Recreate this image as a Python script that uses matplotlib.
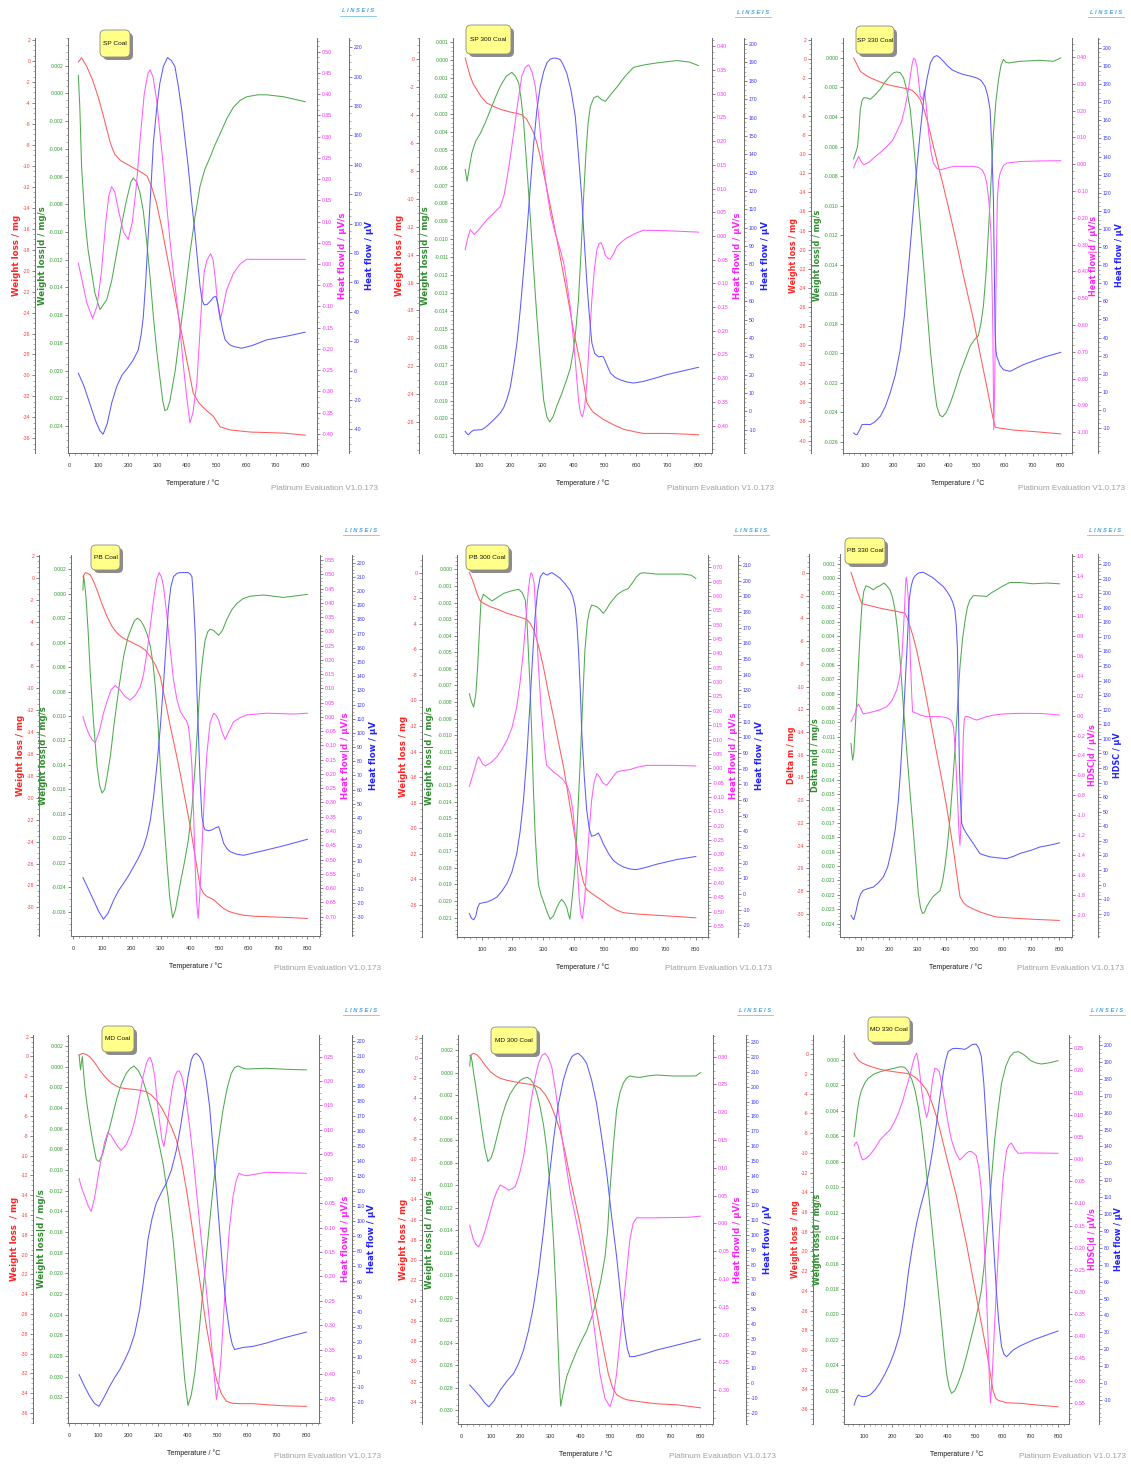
import matplotlib
matplotlib.use('Agg')
import matplotlib.pyplot as plt
import matplotlib.transforms as mtransforms
from matplotlib import font_manager
from matplotlib.patches import FancyBboxPatch
from matplotlib.lines import Line2D
from matplotlib.ticker import FixedLocator, AutoMinorLocator, FormatStrFormatter, MultipleLocator
import numpy as np

# ---------------- data: (temperature °C, value) ----------------
# mass = weight loss (mg), dtg = weight loss|d (mg/s), dtad = heat flow|d (µV/s), dta = heat flow (µV)

sp_mass = [(32, -0.1), (43, 0.3), (60, -0.5), (80, -1.8), (100, -3.5), (120, -5.6), (140, -7.8), (155, -8.9),
           (175, -9.5), (200, -9.9), (225, -10.3), (250, -10.7), (265, -11.0), (280, -12.0), (297, -13.6),
           (315, -16.0), (331, -18.4), (348, -20.9), (365, -23.4), (382, -26.0), (399, -28.5), (421, -31.7),
           (440, -32.6), (460, -33.2), (489, -33.9), (512, -34.9), (546, -35.2), (614, -35.4), (727, -35.5),
           (800, -35.7)]
sp_dtg = [(32, 0.0013), (37, -0.001), (43, -0.0053), (54, -0.009), (65, -0.0113), (88, -0.0144), (105, -0.0156),
          (128, -0.0149), (145, -0.0135), (162, -0.0115), (180, -0.0093), (195, -0.0077), (210, -0.0064),
          (218, -0.0061), (230, -0.0064), (241, -0.0072), (252, -0.0085), (263, -0.0106), (275, -0.0133),
          (286, -0.0161), (297, -0.0185), (308, -0.0205), (318, -0.0222), (325, -0.0229), (333, -0.0228),
          (342, -0.0222), (360, -0.0200), (376, -0.0173), (393, -0.0145), (410, -0.0115), (427, -0.0089),
          (444, -0.0067), (460, -0.0055), (478, -0.0046), (495, -0.0037), (512, -0.0029), (535, -0.0018),
          (557, -0.0010), (580, -0.0005), (602, -0.00024), (640, -0.0001), (670, -0.0001), (727, -0.00024),
          (800, -0.0006)]
sp_dtad = [(32, 0.002), (45, -0.04), (60, -0.09), (80, -0.128), (95, -0.10), (110, -0.02), (125, 0.10), (135, 0.16),
           (145, 0.182), (155, 0.17), (170, 0.12), (185, 0.075), (201, 0.058), (215, 0.10), (228, 0.18),
           (241, 0.292), (255, 0.40), (268, 0.45), (275, 0.457), (285, 0.44), (297, 0.386), (308, 0.31),
           (320, 0.229), (331, 0.14), (342, 0.057), (353, -0.015), (365, -0.085), (377, -0.16), (388, -0.242),
           (400, -0.32), (410, -0.374), (420, -0.35), (433, -0.281), (442, -0.18), (450, -0.085), (458, -0.02),
           (467, 0.009), (480, 0.024), (488, 0.01), (495, -0.030), (503, -0.09), (512, -0.132), (520, -0.11),
           (534, -0.061), (557, -0.022), (580, 0.0), (602, 0.011), (670, 0.011), (800, 0.011)]
sp_dta = [(32, -1.8), (50, -10), (70, -22), (90, -34), (105, -41), (116, -43.3), (130, -36), (145, -22),
          (162, -10.8), (180, -3), (200, 2), (218, 7.3), (235, 14.1), (245, 25), (252, 36.8), (260, 60),
          (269, 93.5), (278, 125), (286, 154.7), (297, 178), (308, 195.5), (320, 207), (334, 213), (347, 211),
          (359, 206.8), (370, 194), (382, 177.4), (393, 158), (404, 138.8), (415, 116), (427, 93.5), (436, 74),
          (444, 57.2), (451, 48), (458, 44.7), (468, 45), (478, 47), (490, 50), (498, 50.4), (505, 45),
          (512, 36.8), (520, 28), (529, 20.9), (545, 17.5), (557, 16.4), (585, 15.2), (620, 17), (670, 20.9),
          (740, 23.5), (800, 26.1)]

sp300_mass = [(54, 0.07), (62, -0.6), (70, -1.24), (80, -1.8), (91, -2.2), (105, -2.7), (123, -3.15), (145, -3.4),
              (166, -3.6), (198, -3.8), (220, -3.9), (235, -4.0), (250, -4.3), (262, -4.8), (273, -5.3),
              (283, -6.0), (294, -7.0), (305, -8.2), (326, -10.5), (347, -12.9), (363, -14.8), (379, -16.7),
              (400, -19.4), (422, -21.8), (435, -23.5), (443, -24.6), (454, -25.0), (464, -25.3), (480, -25.55),
              (496, -25.8), (530, -26.2), (560, -26.5), (600, -26.7), (624, -26.8), (700, -26.8), (760, -26.85),
              (800, -26.9)]
sp300_dtg = [(54, -0.0061), (60, -0.00676), (67, -0.006), (75, -0.0052), (88, -0.0045), (102, -0.0041),
             (118, -0.0035), (134, -0.0028), (150, -0.0021), (166, -0.00146), (185, -0.0009), (203, -0.00068),
             (215, -0.0009), (225, -0.00127), (233, -0.0022), (241, -0.0035), (252, -0.0062), (262, -0.0087),
             (272, -0.0115), (283, -0.0143), (294, -0.0168), (305, -0.019), (315, -0.0199), (324, -0.0202),
             (335, -0.0199), (347, -0.0193), (363, -0.0186), (379, -0.0178), (390, -0.0172), (400, -0.0162),
             (408, -0.015), (416, -0.0134), (424, -0.0108), (432, -0.0078), (440, -0.0052), (447, -0.0035),
             (454, -0.0026), (465, -0.0021), (477, -0.0020), (490, -0.0022), (502, -0.0023), (520, -0.0019),
             (539, -0.0015), (565, -0.0009), (592, -0.0004), (630, -0.00025), (667, -0.00015), (731, -0.00002),
             (770, -0.0001), (800, -0.0003)]
sp300_dtad = [(54, -0.029), (62, -0.005), (70, 0.013), (77, 0.008), (83, 0.003), (100, 0.015), (123, 0.034),
              (145, 0.048), (166, 0.062), (178, 0.085), (187, 0.119), (198, 0.165), (209, 0.217), (222, 0.28),
              (235, 0.337), (246, 0.356), (257, 0.361), (268, 0.345), (278, 0.316), (288, 0.26), (299, 0.182),
              (312, 0.11), (326, 0.048), (342, 0.005), (358, -0.029), (370, -0.06), (379, -0.10), (390, -0.15),
              (400, -0.219), (408, -0.28), (416, -0.345), (422, -0.372), (429, -0.382), (436, -0.36), (443, -0.31),
              (451, -0.22), (459, -0.134), (467, -0.07), (475, -0.029), (482, -0.016), (488, -0.014), (495, -0.025),
              (502, -0.04), (510, -0.047), (518, -0.049), (528, -0.038), (539, -0.022), (555, -0.012),
              (571, -0.004), (600, 0.006), (624, 0.012), (699, 0.011), (800, 0.008)]
sp300_dta = [(54, -10.9), (60, -12.3), (65, -12.7), (72, -11.3), (81, -10.3), (107, -10.0), (120, -8.5),
             (134, -6.4), (150, -3.8), (166, -0.9), (177, 2.0), (187, 6.4), (198, 13), (209, 24.5), (220, 38),
             (230, 55.4), (240, 75), (251, 97), (262, 122), (273, 146), (283, 164), (294, 177), (305, 185),
             (315, 189.7), (326, 191.8), (337, 192.4), (348, 192.2), (358, 191.5), (368, 188.5), (379, 184),
             (392, 175), (406, 160.6), (416, 140), (427, 115.2), (435, 92), (443, 70), (451, 52), (459, 37.2),
             (468, 31.5), (481, 29.6), (490, 30), (496, 29.6), (505, 26), (518, 20.9), (533, 18.5), (549, 17.2),
             (570, 16), (592, 15.4), (624, 16.3), (660, 18), (699, 20), (750, 22), (800, 24)]

sp330_mass = [(58, 0.08), (70, -0.6), (82, -1.32), (100, -1.7), (118, -2.0), (150, -2.4), (178, -2.7),
              (200, -2.85), (225, -3.0), (250, -3.15), (267, -3.3), (282, -3.7), (297, -4.3), (310, -5.3),
              (321, -6.4), (333, -7.8), (344, -9.2), (362, -11.3), (380, -13.4), (398, -15.6), (416, -17.9),
              (434, -20.3), (452, -22.8), (470, -25.1), (488, -27.4), (505, -30.0), (523, -32.6), (535, -34.3),
              (547, -36.1), (557, -37.6), (565, -38.6), (583, -38.7), (631, -38.9), (702, -39.05), (800, -39.3)]
sp330_dtg = [(58, -0.00684), (66, -0.0064), (72, -0.006), (77, -0.0049), (82, -0.0035), (88, -0.0029),
             (94, -0.0027), (105, -0.0027), (118, -0.0028), (135, -0.0025), (154, -0.0021), (172, -0.0016),
             (190, -0.0012), (202, -0.001), (213, -0.00095), (225, -0.001), (237, -0.00135), (249, -0.0022),
             (261, -0.0035), (273, -0.0058), (285, -0.0085), (297, -0.0113), (309, -0.0141), (321, -0.017),
             (333, -0.0198), (345, -0.022), (356, -0.0236), (367, -0.0242), (377, -0.0243), (390, -0.024),
             (404, -0.0234), (422, -0.0224), (440, -0.0213), (458, -0.0204), (476, -0.0195), (490, -0.0191),
             (505, -0.0188), (514, -0.018), (523, -0.0168), (532, -0.0147), (541, -0.0118), (550, -0.0085),
             (559, -0.0051), (568, -0.0029), (577, -0.0015), (586, -0.0005), (595, -0.0001), (604, -0.0003),
             (613, -0.00034), (654, -0.00023), (726, -0.00016), (774, -0.00023), (800, 0.0)]
sp330_dtad = [(58, -0.014), (67, 0.01), (76, 0.029), (85, 0.01), (94, -0.002), (110, 0.005), (130, 0.023),
              (155, 0.045), (178, 0.067), (198, 0.09), (213, 0.122), (230, 0.16), (243, 0.216), (253, 0.27),
              (261, 0.328), (268, 0.375), (273, 0.396), (279, 0.39), (285, 0.365), (291, 0.31), (297, 0.253),
              (305, 0.24), (312, 0.276), (318, 0.22), (327, 0.116), (335, 0.05), (344, 0.004), (356, -0.015),
              (368, -0.021), (390, -0.015), (416, -0.008), (450, -0.008), (488, -0.008), (505, -0.012),
              (518, -0.021), (528, -0.04), (535, -0.070), (543, -0.14), (550, -0.257), (554, -0.45), (557, -0.630),
              (560, -0.991), (563, -0.85), (566, -0.63), (570, -0.33), (573, -0.133), (578, -0.06), (583, -0.033),
              (595, -0.005), (607, 0.004), (654, 0.01), (720, 0.012), (800, 0.013)]
sp330_dta = [(58, -12.7), (64, -13.5), (70, -13.7), (78, -11.5), (88, -8.1), (100, -8.0), (118, -8.1),
             (135, -6.5), (154, -3.5), (172, 2), (189, 9.4), (207, 19), (225, 33.3), (240, 52), (255, 79.4),
             (270, 107), (285, 134.6), (297, 154), (309, 171.4), (321, 183), (333, 191.7), (345, 195),
             (356, 195.8), (368, 194.5), (380, 192.6), (395, 190), (410, 188), (430, 186.5), (452, 185.3),
             (475, 184.5), (500, 183.4), (515, 182), (529, 178.8), (538, 174), (547, 165.9), (553, 145),
             (559, 116.2), (562, 80), (565, 42.5), (568, 33), (571, 29.6), (583, 24.5), (595, 22.2), (619, 21.3),
             (640, 23), (666, 25), (710, 27.5), (750, 29.6), (800, 31.8)]

pb_mass = [(34, 0.12), (42, 0.48), (50, 0.42), (59, 0.27), (70, -0.3), (82, -1.1), (98, -2.3), (116, -3.5),
           (133, -4.4), (150, -5.0), (167, -5.4), (184, -5.65), (207, -5.95), (230, -6.26), (248, -6.6),
           (264, -7.17), (281, -7.9), (298, -9.0), (315, -11.2), (332, -13.5), (349, -15.6), (366, -17.8),
           (383, -20.2), (400, -22.6), (417, -25.4), (434, -28.1), (445, -28.7), (457, -29.0), (480, -29.3),
           (497, -29.7), (514, -30.1), (531, -30.35), (548, -30.5), (580, -30.7), (616, -30.8), (718, -30.9),
           (800, -31.0)]
pb_dtg = [(34, 0.00031), (36, 0.0015), (40, 0.0008), (45, -0.0005), (52, -0.0032), (59, -0.0065), (70, -0.0105),
          (82, -0.0141), (91, -0.0157), (99, -0.0163), (108, -0.016), (116, -0.015), (128, -0.0132),
          (139, -0.0109), (156, -0.0078), (173, -0.0051), (187, -0.0036), (201, -0.0027), (210, -0.0022),
          (220, -0.002), (231, -0.0022), (241, -0.0026), (253, -0.0033), (264, -0.0043), (273, -0.0057),
          (281, -0.0076), (290, -0.0105), (298, -0.0141), (309, -0.0182), (320, -0.0218), (330, -0.0248),
          (340, -0.0265), (350, -0.0258), (366, -0.0237), (380, -0.022), (394, -0.0201), (406, -0.0175),
          (417, -0.0141), (426, -0.0105), (434, -0.0073), (443, -0.0052), (451, -0.0038), (460, -0.0031),
          (468, -0.0029), (480, -0.003), (497, -0.0034), (510, -0.003), (525, -0.0021), (542, -0.0013),
          (559, -0.0008), (580, -0.0004), (605, -0.0002), (650, -0.0001), (718, -0.0003), (752, -0.0002),
          (800, -0.00005)]
pb_dtad = [(34, 0.001), (43, -0.03), (53, -0.057), (65, -0.08), (76, -0.09), (90, -0.05), (104, 0.013),
           (118, 0.06), (130, 0.095), (144, 0.11), (160, 0.095), (178, 0.071), (195, 0.059), (212, 0.075),
           (230, 0.106), (241, 0.15), (252, 0.223), (264, 0.32), (275, 0.41), (285, 0.48), (294, 0.506),
           (302, 0.49), (309, 0.457), (320, 0.36), (332, 0.235), (343, 0.13), (355, 0.059), (366, 0.02),
           (377, 0.001), (388, -0.015), (394, -0.034), (400, -0.09), (406, -0.174), (412, -0.35), (417, -0.525),
           (422, -0.65), (427, -0.706), (433, -0.62), (440, -0.466), (448, -0.28), (457, -0.128), (468, -0.02),
           (480, 0.013), (489, 0.005), (497, -0.011), (508, -0.05), (519, -0.079), (530, -0.055), (548, -0.017),
           (570, -0.003), (593, 0.007), (661, 0.013), (752, 0.01), (800, 0.013)]
pb_dta = [(34, -2.0), (50, -9), (70, -17.8), (88, -26), (104, -31.4), (120, -27), (139, -17.8), (156, -11),
          (173, -6.0), (190, -0.5), (207, 5.7), (225, 12.5), (241, 19.8), (253, 28), (264, 38.6), (275, 55),
          (286, 76.2), (298, 104), (309, 134.9), (318, 163), (326, 189), (334, 203), (343, 210.1), (355, 212.5),
          (366, 213), (380, 213), (394, 213), (400, 212), (406, 210.1), (411, 195), (417, 170.2), (422, 135),
          (428, 99.7), (434, 65), (440, 41), (446, 34), (451, 31.6), (463, 31), (474, 31.6), (486, 33),
          (497, 33.9), (505, 29), (514, 22.2), (525, 18.5), (536, 16.3), (558, 14.5), (582, 13.7), (620, 15.5),
          (661, 17.5), (730, 21), (800, 25)]

pb300_mass = [(59, 0.0), (66, -0.4), (73, -0.83), (82, -1.5), (92, -2.14), (105, -2.4), (127, -2.66),
              (155, -2.9), (182, -3.18), (210, -3.38), (236, -3.57), (248, -3.7), (258, -3.96), (270, -4.5),
              (280, -5.27), (290, -6.2), (301, -7.35), (317, -9.3), (334, -11.26), (350, -13.2), (367, -15.18),
              (383, -17.5), (399, -19.87), (410, -21.5), (421, -23.0), (432, -24.2), (443, -24.8), (460, -25.1),
              (475, -25.35), (497, -25.7), (519, -26.1), (541, -26.4), (563, -26.6), (606, -26.7), (671, -26.8),
              (740, -26.9), (800, -27.0)]
pb300_dtg = [(59, -0.0075), (66, -0.008), (73, -0.0083), (80, -0.0075), (86, -0.0059), (91, -0.004),
             (97, -0.0019), (105, -0.0015), (118, -0.0017), (133, -0.0019), (150, -0.0017), (171, -0.00145),
             (195, -0.0013), (220, -0.0012), (232, -0.0014), (242, -0.00185), (247, -0.003), (252, -0.0049),
             (258, -0.0073), (263, -0.0099), (268, -0.013), (274, -0.0159), (280, -0.0178), (285, -0.019),
             (293, -0.0196), (301, -0.02), (312, -0.0206), (323, -0.0211), (334, -0.0209), (345, -0.0204),
             (353, -0.0201), (361, -0.0199), (370, -0.0201), (378, -0.0204), (383, -0.0208), (388, -0.0211),
             (396, -0.0197), (405, -0.0179), (413, -0.015), (421, -0.0119), (429, -0.0083), (437, -0.0049),
             (445, -0.0032), (452, -0.0025), (459, -0.00215), (468, -0.0022), (476, -0.00225), (486, -0.0024),
             (497, -0.00265), (508, -0.0024), (519, -0.00205), (530, -0.0018), (541, -0.00155), (560, -0.0013),
             (579, -0.00115), (593, -0.0008), (606, -0.00044), (617, -0.00025), (628, -0.0002), (671, -0.00028),
             (759, -0.00028), (785, -0.00035), (800, -0.00054)]
pb300_dtad = [(59, -0.063), (68, -0.03), (78, 0.005), (84, 0.03), (89, 0.04), (95, 0.03), (102, 0.015),
              (111, 0.008), (130, 0.02), (149, 0.04), (165, 0.065), (182, 0.098), (198, 0.14), (214, 0.214),
              (225, 0.3), (236, 0.412), (244, 0.52), (252, 0.621), (257, 0.665), (261, 0.681), (266, 0.672),
              (271, 0.644), (278, 0.5), (285, 0.353), (293, 0.22), (301, 0.121), (307, 0.05), (312, 0.010),
              (322, 0.0), (334, -0.013), (350, -0.025), (367, -0.042), (378, -0.06), (388, -0.088), (397, -0.14),
              (405, -0.228), (412, -0.34), (419, -0.46), (424, -0.51), (429, -0.524), (436, -0.46), (443, -0.345),
              (451, -0.22), (459, -0.112), (467, -0.05), (476, -0.019), (485, -0.03), (495, -0.05), (508, -0.06),
              (522, -0.04), (541, -0.013), (562, -0.008), (584, -0.005), (610, 0.004), (639, 0.010), (726, 0.010),
              (800, 0.008)]
pb300_dta = [(59, -12.5), (66, -15.5), (73, -16.4), (80, -14), (86, -8.5), (92, -6.1), (104, -5.5), (116, -5.1),
             (132, -3.8), (149, -1.9), (165, 1.8), (182, 6.7), (198, 14), (214, 25.8), (225, 40), (236, 59.9),
             (247, 88), (258, 123.8), (266, 152), (274, 177), (282, 193), (291, 202.5), (301, 205.1), (308, 204),
             (314, 203.6), (321, 204.5), (329, 205.1), (342, 203.5), (356, 201.5), (372, 198), (388, 194),
             (397, 190), (405, 183.4), (411, 172), (416, 155.7), (422, 130), (427, 102.5), (435, 75), (443, 53.5),
             (451, 42), (459, 36.9), (470, 37.5), (481, 39), (489, 36), (497, 32.2), (514, 26), (530, 21.5),
             (547, 19), (563, 17.3), (585, 16), (606, 15.6), (640, 17.2), (671, 19), (737, 22), (800, 24)]

pb330_mass = [(66, 0.06), (76, -0.7), (86, -1.47), (95, -2.1), (104, -2.7), (130, -2.85), (168, -3.09),
              (200, -3.25), (227, -3.38), (256, -3.53), (265, -4.0), (274, -4.7), (285, -5.6), (297, -6.76),
              (315, -8.9), (333, -11.2), (350, -13.5), (368, -15.9), (386, -18.2), (403, -20.6), (415, -22.5),
              (427, -24.4), (438, -26.4), (450, -28.5), (461, -29.0), (473, -29.3), (497, -29.6), (520, -29.85),
              (550, -30.1), (579, -30.3), (638, -30.4), (708, -30.5), (800, -30.6)]
pb330_dtg = [(66, -0.01147), (69, -0.0122), (72, -0.01263), (76, -0.0121), (80, -0.01077), (86, -0.0085),
             (92, -0.00613), (98, -0.0039), (104, -0.00195), (111, -0.0009), (119, -0.00051), (130, -0.0006),
             (145, -0.00079), (157, -0.0006), (168, -0.00051), (182, -0.00032), (192, -0.0005), (203, -0.00079),
             (212, -0.0013), (221, -0.00218), (230, -0.0036), (239, -0.00566), (250, -0.0088), (262, -0.0119),
             (274, -0.0149), (286, -0.0177), (295, -0.0199), (303, -0.0219), (311, -0.0229), (318, -0.0233),
             (325, -0.0232), (333, -0.0228), (345, -0.0224), (356, -0.0221), (368, -0.0219), (380, -0.0217),
             (389, -0.021), (397, -0.02), (406, -0.0185), (415, -0.0166), (424, -0.0143), (432, -0.0119),
             (441, -0.009), (450, -0.0061), (459, -0.0042), (468, -0.0029), (476, -0.002), (485, -0.0015),
             (497, -0.0012), (509, -0.0012), (544, -0.00125), (560, -0.001), (579, -0.00079), (603, -0.0005),
             (626, -0.00028), (661, -0.00028), (708, -0.00037), (755, -0.00032), (800, -0.00037)]
pb330_dtad = [(66, -0.061), (73, -0.02), (80, 0.022), (86, 0.08), (92, 0.116), (100, 0.07), (109, 0.016),
              (125, 0.025), (145, 0.039), (170, 0.06), (192, 0.089), (210, 0.15), (227, 0.256), (235, 0.35),
              (241, 0.457), (246, 0.62), (250, 0.824), (255, 1.1), (258, 1.3), (260, 1.386), (263, 1.35),
              (268, 1.159), (272, 0.85), (276, 0.49), (280, 0.2), (283, 0.039), (290, 0.03), (297, 0.022),
              (315, 0.0), (333, -0.011), (360, -0.011), (380, -0.011), (400, -0.02), (415, -0.038), (421, -0.06),
              (427, -0.111), (432, -0.3), (436, -0.513), (440, -0.75), (444, -1.014), (447, -1.2), (450, -1.3),
              (453, -1.1), (456, -0.847), (459, -0.5), (462, -0.178), (465, -0.05), (468, -0.011), (476, -0.01),
              (485, -0.018), (497, -0.035), (509, -0.045), (525, -0.03), (544, -0.011), (570, 0.005), (603, 0.016),
              (661, 0.022), (740, 0.02), (800, 0.005)]
pb330_dta = [(66, -21.1), (71, -23), (76, -24.1), (84, -18), (92, -10.8), (100, -6.5), (109, -4), (125, -2.8),
             (145, -1.7), (162, 1.2), (180, 5.2), (195, 12), (209, 23.6), (222, 38), (233, 58), (241, 80),
             (248, 103.8), (254, 127), (260, 149.6), (266, 173), (271, 195.5), (278, 205), (286, 210.4),
             (295, 212.5), (303, 213.8), (312, 214.2), (321, 214.3), (338, 212.5), (356, 210.4), (373, 207.5),
             (391, 204.6), (403, 201.5), (415, 197.8), (424, 194), (432, 188.6), (437, 178), (441, 161.1),
             (444, 125), (448, 80.9), (452, 58), (456, 41.9), (464, 38), (473, 35), (485, 31.5), (497, 28.1),
             (509, 24.5), (520, 21.3), (538, 20), (556, 19), (585, 18.3), (614, 17.8), (640, 19.5), (661, 21.3),
             (700, 23.5), (732, 25.8), (770, 27.2), (800, 28.6)]

md_mass = [(34, 0.15), (47, 0.32), (58, 0.2), (70, -0.02), (86, -0.6), (103, -1.36), (120, -2.0), (137, -2.54),
           (154, -2.9), (171, -3.14), (193, -3.25), (216, -3.31), (238, -3.4), (261, -3.55), (278, -3.9),
           (294, -4.39), (311, -5.1), (328, -6.07), (345, -7.1), (362, -8.42), (379, -10.6), (396, -13.47),
           (413, -16.8), (429, -20.2), (446, -23.7), (463, -27.25), (480, -30.1), (497, -32.6), (513, -34.0),
           (530, -34.8), (550, -35.0), (575, -35.05), (620, -35.05), (665, -35.15), (721, -35.26), (800, -35.32)]
md_dtg = [(34, 0.00113), (37, 0.0002), (39, -0.00032), (42, 0.0004), (45, 0.00097), (48, -0.0002), (53, -0.0019),
          (61, -0.0037), (70, -0.0055), (81, -0.0074), (92, -0.009), (101, -0.0092), (113, -0.0085),
          (126, -0.0071), (143, -0.0052), (160, -0.0032), (176, -0.0017), (193, -0.00065), (206, -0.0002),
          (219, 0.000065), (234, -0.0004), (249, -0.0013), (266, -0.0029), (283, -0.0048), (300, -0.0070),
          (317, -0.0094), (334, -0.0126), (351, -0.0168), (365, -0.0213), (379, -0.0265), (390, -0.0303),
          (401, -0.0328), (412, -0.0318), (424, -0.0297), (438, -0.0258), (452, -0.0216), (468, -0.0168),
          (485, -0.0119), (502, -0.0076), (519, -0.0042), (533, -0.0021), (547, -0.00065), (558, -0.0001),
          (570, 0.000065), (584, -0.00012), (598, -0.00023), (665, -0.00016), (733, -0.00026), (800, -0.00032)]
md_dtad = [(34, 0.0), (43, -0.02), (53, -0.036), (64, -0.055), (75, -0.067), (86, -0.04), (98, 0.005), (110, 0.045),
           (120, 0.075), (131, 0.095), (142, 0.088), (154, 0.076), (165, 0.065), (176, 0.058), (193, 0.07),
           (210, 0.093), (224, 0.125), (238, 0.168), (250, 0.21), (261, 0.236), (268, 0.246), (274, 0.248),
           (281, 0.235), (289, 0.209), (297, 0.16), (306, 0.114), (313, 0.08), (320, 0.066), (329, 0.1),
           (339, 0.148), (348, 0.185), (356, 0.209), (364, 0.219), (371, 0.221), (380, 0.21), (390, 0.182),
           (404, 0.12), (418, 0.045), (432, -0.04), (446, -0.125), (460, -0.21), (474, -0.295), (486, -0.38),
           (497, -0.452), (505, -0.42), (513, -0.363), (521, -0.28), (530, -0.193), (541, -0.1), (553, -0.036),
           (563, -0.005), (573, 0.011), (585, 0.008), (598, 0.006), (665, 0.013), (800, 0.011)]
md_dta = [(34, -1.9), (52, -9.5), (70, -16.3), (86, -21), (101, -22.9), (118, -17), (137, -9.6), (154, -3.8),
          (171, 1.4), (188, 8), (204, 14.8), (221, 25), (238, 41.2), (252, 62), (266, 87.7), (280, 102),
          (294, 112), (311, 119), (328, 125.3), (345, 134), (362, 147.4), (376, 163), (390, 180.6), (401, 196),
          (412, 207.2), (420, 210.5), (429, 211.6), (440, 209.5), (452, 205), (463, 193), (474, 176.2),
          (485, 150), (497, 120.9), (508, 93), (519, 65.6), (530, 43), (542, 25.8), (550, 18.5), (558, 14.8),
          (572, 15.5), (587, 16.2), (620, 16.9), (665, 19.1), (721, 22.4), (800, 26.4)]

md300_mass = [(29, 0.19), (42, 0.45), (53, 0.3), (64, -0.04), (81, -0.75), (98, -1.36), (115, -1.75),
              (131, -2.02), (154, -2.22), (176, -2.35), (204, -2.5), (231, -2.62), (248, -2.75), (264, -3.01),
              (281, -3.6), (298, -4.5), (314, -5.7), (331, -7.13), (347, -9.2), (364, -11.75), (381, -14.1),
              (398, -16.4), (414, -19.0), (431, -21.6), (447, -24.2), (464, -26.9), (478, -29.1), (492, -31.2),
              (506, -32.6), (520, -33.3), (537, -33.6), (553, -33.8), (598, -34.0), (653, -34.2), (720, -34.3),
              (800, -34.6)]
md300_dtg = [(29, 0.00058), (31, 0.0012), (33, 0.00156), (38, 0.0008), (43, -0.0002), (48, -0.00096),
             (59, -0.003), (70, -0.0051), (80, -0.0068), (90, -0.0079), (100, -0.0076), (109, -0.0069),
             (123, -0.0054), (137, -0.0039), (150, -0.0028), (164, -0.0019), (181, -0.0012), (198, -0.0007),
             (210, -0.0005), (222, -0.00043), (232, -0.0006), (242, -0.00096), (253, -0.0018), (264, -0.003),
             (276, -0.0047), (287, -0.0069), (298, -0.0103), (309, -0.0149), (318, -0.0198), (326, -0.0253),
             (330, -0.028), (333, -0.0296), (342, -0.0284), (353, -0.027), (370, -0.0258), (387, -0.0247),
             (403, -0.0238), (420, -0.0229), (437, -0.0217), (453, -0.0202), (467, -0.0185), (481, -0.0164),
             (490, -0.014), (498, -0.0104), (509, -0.0065), (520, -0.0033), (531, -0.0018), (542, -0.00096),
             (553, -0.0005), (564, -0.00031), (581, -0.0004), (598, -0.00043), (625, -0.0003), (653, -0.00022),
             (709, -0.00031), (764, -0.00031), (785, -0.0003), (800, -0.00001)]
md300_dtad = [(29, -0.0033), (36, -0.018), (42, -0.03), (50, -0.038), (59, -0.042), (70, -0.03), (81, -0.012),
              (95, 0.015), (109, 0.042), (120, 0.058), (131, 0.069), (145, 0.065), (159, 0.06), (170, 0.062),
              (181, 0.066), (195, 0.088), (209, 0.12), (220, 0.16), (231, 0.21), (245, 0.255), (259, 0.288),
              (270, 0.302), (281, 0.306), (292, 0.298), (303, 0.282), (317, 0.235), (331, 0.18), (347, 0.118),
              (364, 0.06), (381, 0.015), (398, -0.03), (414, -0.078), (431, -0.132), (447, -0.195), (464, -0.27),
              (481, -0.315), (498, -0.33), (509, -0.31), (520, -0.27), (531, -0.21), (542, -0.15), (553, -0.09),
              (564, -0.03), (575, 0.0), (587, 0.01), (653, 0.01), (760, 0.011), (800, 0.013)]
md300_dta = [(29, -1.3), (46, -5), (64, -9.2), (80, -13.5), (93, -16), (110, -12), (131, -4.7), (154, 1.5),
             (176, 6.6), (192, 13), (209, 22.3), (225, 35), (242, 51.6), (259, 75), (276, 103.3), (292, 134),
             (309, 164.1), (325, 188), (342, 204.6), (356, 214), (370, 220.3), (381, 222), (392, 222.6),
             (406, 220), (420, 215.8), (437, 204), (453, 188.8), (470, 166), (487, 141.6), (503, 113), (520, 85.3),
             (534, 58), (548, 33.6), (556, 23), (564, 17.8), (580, 18), (598, 18.9), (625, 20.5), (653, 22.3),
             (720, 25.6), (800, 29.7)]

md330_mass = [(63, 0.1), (70, -0.25), (78, -0.58), (90, -0.85), (108, -1.08), (130, -1.3), (157, -1.52),
              (181, -1.65), (205, -1.76), (229, -1.85), (253, -1.93), (271, -2.1), (289, -2.44), (307, -2.95),
              (325, -3.62), (343, -4.8), (361, -6.33), (379, -8.3), (397, -10.4), (415, -12.4), (433, -14.4),
              (451, -16.8), (469, -19.2), (487, -21.9), (505, -24.6), (523, -27.3), (541, -30.0), (553, -32.0),
              (565, -34.1), (575, -34.9), (584, -35.1), (614, -35.35), (662, -35.4), (734, -35.6), (800, -35.76)]
md330_dtg = [(63, -0.00603), (69, -0.005), (75, -0.00393), (82, -0.003), (90, -0.00236), (102, -0.0018),
             (114, -0.00144), (135, -0.0011), (157, -0.00092), (181, -0.00078), (205, -0.00066), (220, -0.00057),
             (235, -0.00052), (247, -0.0006), (259, -0.00092), (271, -0.0015), (283, -0.00236), (295, -0.0037),
             (307, -0.0055), (319, -0.0077), (331, -0.0102), (343, -0.0128), (355, -0.0155), (367, -0.0181),
             (379, -0.0207), (388, -0.0228), (397, -0.0246), (406, -0.0257), (415, -0.0262), (427, -0.026),
             (439, -0.0254), (454, -0.0245), (469, -0.0233), (484, -0.022), (499, -0.0207), (511, -0.0195),
             (523, -0.0181), (535, -0.0158), (547, -0.0128), (559, -0.0095), (571, -0.0063), (584, -0.0038),
             (596, -0.00183), (611, -0.0005), (626, 0.00026), (641, 0.0006), (656, 0.00066), (671, 0.0005),
             (686, 0.00026), (698, 0.0), (710, -0.00013), (725, -0.00025), (740, -0.00031), (770, -0.00021),
             (800, -0.00005)]
md330_dtad = [(63, 0.03), (67, 0.036), (72, 0.038), (78, 0.03), (86, 0.01), (94, -0.002), (107, 0.002),
              (120, 0.009), (139, 0.025), (157, 0.043), (175, 0.055), (193, 0.066), (208, 0.083), (223, 0.103),
              (238, 0.13), (253, 0.163), (265, 0.19), (277, 0.22), (283, 0.232), (289, 0.239), (295, 0.22),
              (301, 0.19), (307, 0.156), (316, 0.12), (325, 0.094), (332, 0.11), (339, 0.141), (347, 0.18),
              (355, 0.205), (363, 0.203), (371, 0.197), (381, 0.165), (391, 0.126), (403, 0.08), (415, 0.043),
              (430, 0.015), (445, -0.002), (457, 0.005), (469, 0.013), (478, 0.017), (487, 0.017), (496, 0.013),
              (505, 0.007), (514, -0.02), (523, -0.07), (532, -0.17), (541, -0.296), (548, -0.42), (552, -0.5),
              (556, -0.551), (563, -0.48), (571, -0.371), (580, -0.26), (590, -0.145), (602, -0.04), (614, 0.02),
              (623, 0.032), (632, 0.036), (644, 0.022), (656, 0.013), (686, 0.014), (800, 0.013)]
md330_dta = [(63, -13), (70, -9.5), (78, -7.1), (87, -7.8), (96, -8.0), (108, -7.8), (120, -7.1), (139, -4),
             (157, 0.2), (175, 5.5), (193, 11.7), (211, 19.5), (229, 29.4), (244, 45), (259, 65.1), (274, 81),
             (289, 94.5), (301, 103), (313, 110.3), (325, 118), (337, 128), (349, 140), (361, 153.7), (373, 169),
             (385, 183.2), (394, 191), (403, 196.1), (418, 197.8), (433, 198), (448, 197.8), (463, 197.4),
             (475, 198.5), (487, 200), (496, 200.5), (505, 200.4), (514, 198), (523, 193.1), (532, 177),
             (541, 153.7), (550, 130), (559, 104.4), (568, 79), (577, 55), (586, 36), (596, 21.5), (605, 17),
             (614, 15.6), (626, 17.5), (638, 19.6), (662, 21.9), (710, 25.5), (760, 28.5), (800, 30.8)]

titles = ['SP Coal', 'SP 300 Coal', 'SP 330 Coal', 'PB Coal', 'PB 300 Coal', 'PB 330 Coal',
          'MD Coal', 'MD 300 Coal', 'MD 330 Coal']

STD = ('Weight loss / mg', 'Weight loss|d / mg/s', 'Heat flow|d / µV/s', 'Heat flow / µV')
HDSC = ('Delta m / mg', 'Delta m|d / mg/s', 'HDSC|d / µV/s', 'HDSC / µV')
MD_LB = ('Weight loss  / mg', 'Weight loss|d / mg/s', 'Heat flow|d / µV/s', 'Heat flow / µV')
MD330_LB = ('Weight loss  / mg', 'Weight loss|d / mg/s', 'HDSC|d / µV/s', 'Heat flow / µV')

# axis ranges and tick steps per panel, order: mass, dtg, dta|d, dta
panels = [
    dict(curves=(sp_mass, sp_dtg, sp_dtad, sp_dta), labels=STD, xlim=(-3, 840),
         lims=((-37.4, 2.19), (-0.02595, 0.0040), (-0.445, 0.532), (-56.1, 226.3)),
         ticks=((-36, 2, 2), (-0.024, 0.002, 0.002), (-0.40, 0.50, 0.05), (-40, 220, 20)),
         fmts=('%d', '%.3f', '%.2f', '%d')),
    dict(curves=(sp300_mass, sp300_dtg, sp300_dtad, sp300_dta), labels=STD, xlim=(15, 843),
         lims=((-28.2, 1.5), (-0.02193, 0.00124), (-0.458, 0.4176), (-22.7, 203.3)),
         ticks=((-26, 0, 2), (-0.021, 0.001, 0.001), (-0.40, 0.40, 0.05), (-10, 200, 10)),
         fmts=('%d', '%.3f', '%.2f', '%d')),
    dict(curves=(sp330_mass, sp330_dtg, sp330_dtad, sp330_dta), labels=STD, xlim=(20, 840.5),
         lims=((-41.3, 2.17), (-0.02675, 0.00135), (-1.078, 0.471), (-23.8, 205.5)),
         ticks=((-40, 2, 2), (-0.026, 0.0, 0.002), (-1.0, 0.4, 0.1), (-10, 200, 10)),
         fmts=('%d', '%.3f', '%.2f', '%d')),
    dict(curves=(pb_mass, pb_dtg, pb_dtad, pb_dta), labels=STD, xlim=(-6.8, 843),
         lims=((-32.6, 2.09), (-0.02799, 0.00317), (-0.768, 0.5675), (-43.2, 225.4)),
         ticks=((-30, 2, 2), (-0.026, 0.002, 0.002), (-0.70, 0.55, 0.05), (-30, 220, 10)),
         fmts=('%d', '%.3f', '%.2f', '%d')),
    dict(curves=(pb300_mass, pb300_dtg, pb300_dtad, pb300_dta), labels=STD, xlim=(18.4, 840),
         lims=((-28.5, 1.38), (-0.02217, 0.00087), (-0.588, 0.743), (-27.4, 216.4)),
         ticks=((-26, 0, 2), (-0.021, 0.0, 0.001), (-0.55, 0.70, 0.05), (-20, 210, 10)),
         fmts=('%d', '%.3f', '%.2f', '%d')),
    dict(curves=(pb330_mass, pb330_dtg, pb330_dtad, pb330_dta), labels=HDSC, xlim=(27.2, 844.6),
         lims=((-32.06, 1.68), (-0.02493, 0.0017), (-2.217, 1.617), (-36, 226.9)),
         ticks=((-30, 0, 2), (-0.024, 0.001, 0.001), (-2.0, 1.6, 0.2), (-20, 220, 10)),
         fmts=('%d', '%.3f', '%.1f', '%d')),
    dict(curves=(md_mass, md_dtg, md_dtad, md_dta), labels=MD_LB, xlim=(-3.4, 842.7),
         lims=((-37.0, 2.17), (-0.0345, 0.00306), (-0.5, 0.294), (-34, 223.8)),
         ticks=((-36, 2, 2), (-0.032, 0.002, 0.002), (-0.45, 0.25, 0.05), (-20, 220, 10)),
         fmts=('%d', '%.3f', '%.2f', '%d')),
    dict(curves=(md300_mass, md300_dtg, md300_dtad, md300_dta), labels=STD, xlim=(-10, 842),
         lims=((-36.2, 2.26), (-0.0312, 0.00333), (-0.361, 0.339), (-27.6, 235)),
         ticks=((-34, 2, 2), (-0.030, 0.002, 0.002), (-0.30, 0.30, 0.05), (-20, 230, 10)),
         fmts=('%d', '%.3f', '%.2f', '%d')),
    dict(curves=(md330_mass, md330_dtg, md330_dtad, md330_dta), labels=MD330_LB, xlim=(26.6, 839.7),
         lims=((-37.5, 1.96), (-0.02862, 0.00197), (-0.598, 0.28), (-24.2, 205.9)),
         ticks=((-36, 0, 2), (-0.026, 0.0, 0.002), (-0.55, 0.25, 0.05), (-10, 200, 10)),
         fmts=('%d', '%.3f', '%.2f', '%d')),
]

# ---------------- layout in image pixels (top-left origin) ----------------
# plot = (left, right, top, bottom, red spine x, blue spine x); lab = x of the four axis titles
layout = [
    dict(plot=(68, 317, 38, 453, 35, 349), lab=(16, 42, 343, 370),
         box=(100, 30, 30, 27), logo=(358, 11), foot=(378, 488)),
    dict(plot=(453, 712, 38, 453, 419, 744), lab=(400, 425, 737, 765),
         box=(466, 25, 45, 29), logo=(753, 12), foot=(774, 488)),
    dict(plot=(843, 1072, 38, 453, 811, 1098), lab=(793, 817, 1093.5, 1119),
         box=(856, 26, 38, 28), logo=(1106, 12), foot=(1125, 488)),
    dict(plot=(71, 320, 555, 936, 39, 352), lab=(21, 44, 345, 373),
         box=(91, 545, 29, 25), logo=(361, 530), foot=(381, 968)),
    dict(plot=(457, 708, 555, 937, 422, 738), lab=(403, 429, 733, 759),
         box=(466, 545, 43, 25), logo=(751, 530), foot=(772, 968)),
    dict(plot=(840, 1072, 554, 937, 809, 1098), lab=(792, 815, 1092.5, 1118),
         box=(845, 538, 40, 26), logo=(1105, 530), foot=(1124, 968)),
    dict(plot=(68, 319, 1035, 1423, 33, 352), lab=(15, 41, 345, 372),
         box=(102, 1026, 32, 26), logo=(361, 1010), foot=(381, 1457)),
    dict(plot=(458, 713, 1035, 1424, 422, 746), lab=(403, 430, 738, 767),
         box=(491, 1027, 46, 27), logo=(755, 1010), foot=(776, 1457)),
    dict(plot=(844, 1069, 1035, 1424, 813, 1099), lab=(795, 818, 1092.5, 1119),
         box=(868, 1017, 42, 25), logo=(1107, 1010), foot=(1126, 1457)),
]

LINE_COLORS = ('#ff5c5c', '#4fab4f', '#ff5cff', '#5c5cff')
TICK_COLORS = ('#ff3b3b', '#2f9a2f', '#ff22ff', '#3535ff')
LABEL_COLORS = ('#ff2424', '#2e8b2e', '#ff22ff', '#2222ff')
SPINE = '#6e6e6e'

names = {f.name for f in font_manager.fontManager.ttflist}
if 'Liberation Sans Narrow' in names:
    NARROW, k = 'Liberation Sans Narrow', 1.0
elif 'Liberation Sans' in names:
    NARROW, k = 'Liberation Sans', 0.86
else:
    NARROW, k = 'DejaVu Sans', 0.74
plt.rcParams['font.family'] = [NARROW, 'DejaVu Sans']

W, H = 1131, 1466
fig = plt.figure(figsize=(W / 100, H / 100), dpi=100)
px = mtransforms.Affine2D().scale(1 / W, -1 / H).translate(0, 1) + fig.transFigure


def tick_values(lo, hi, step):
    n = int(round((hi - lo) / step))
    return np.round(lo + step * np.arange(n + 1), 6) + 0.0


def draw_panel(p, g, title):
    pl, pr, top, bot, rx, bx = g['plot']
    w, h = pr - pl, bot - top
    ax = fig.add_axes([pl / W, 1 - bot / H, w / W, h / H])
    ax_r = ax.twinx()
    ax_m = ax.twinx()
    ax_b = ax.twinx()
    for a in (ax_r, ax_m, ax_b):
        for s in a.spines.values():
            s.set_visible(False)
    ax.spines['top'].set_visible(False)
    for s in ('left', 'right', 'bottom'):
        ax.spines[s].set_color(SPINE)
        ax.spines[s].set_linewidth(0.7)
    ax_r.spines['left'].set_visible(True)
    ax_r.spines['left'].set_position(('axes', (rx - pl) / w))
    ax_r.yaxis.set_ticks_position('left')
    ax_r.yaxis.set_label_position('left')
    ax_b.spines['right'].set_visible(True)
    ax_b.spines['right'].set_position(('axes', (bx - pl) / w))
    for a, s in ((ax_r, 'left'), (ax_b, 'right')):
        a.spines[s].set_color(SPINE)
        a.spines[s].set_linewidth(0.7)

    ax.set_xlim(p['xlim'])
    ax.xaxis.set_major_locator(MultipleLocator(100))
    ax.xaxis.set_minor_locator(AutoMinorLocator(5))
    ax.tick_params(axis='x', which='major', length=2.5, width=0.6, color=SPINE,
                   labelsize=4.7 * k, labelcolor='#333333', pad=4.5)
    ax.tick_params(axis='x', which='minor', length=1.3, width=0.4, color=SPINE)
    ax.set_xlabel('Temperature / °C', fontsize=5.9 * k, color='#1a1a1a', labelpad=8)

    narrow_panel = (bx - rx) < 300
    lab_fs = 5.8 if narrow_panel else 6.2
    ylab = 1 - (h / 2 + 10) / h   # axis titles sit a little below the middle
    for i, a in enumerate((ax_r, ax, ax_m, ax_b)):
        T, v = np.array(p['curves'][i]).T
        a.plot(T, v, color=LINE_COLORS[i], lw=0.75)
        a.set_ylim(p['lims'][i])
        a.yaxis.set_major_locator(FixedLocator(tick_values(*p['ticks'][i])))
        a.yaxis.set_minor_locator(AutoMinorLocator(4))
        a.yaxis.set_major_formatter(FormatStrFormatter(p['fmts'][i]))
        a.tick_params(axis='y', which='major', length=2.2, width=0.6, color=SPINE,
                      labelsize=4.3 * k, labelcolor=TICK_COLORS[i], pad=1)
        a.tick_params(axis='y', which='minor', length=1.1, width=0.4, color=SPINE)
        a.set_ylabel(p['labels'][i], color=LABEL_COLORS[i], fontsize=lab_fs, fontweight='bold',
                     family='DejaVu Sans')
        a.yaxis.set_label_coords((g['lab'][i] - pl) / w, ylab)
        a.yaxis.label.set_verticalalignment('center')

    # sample name in a yellow rounded box with a drop shadow
    x0, y0, bw, bh = g['box']
    shadow = FancyBboxPatch((x0 + 3, y0 + 3), bw, bh, boxstyle='round,pad=0,rounding_size=5',
                            transform=px, fc='#8c8c8c', ec='none', zorder=5)
    box = FancyBboxPatch((x0, y0), bw, bh, boxstyle='round,pad=0,rounding_size=5',
                         transform=px, fc='#ffff8a', ec='#8a8a8a', lw=0.6, zorder=6)
    fig.add_artist(shadow)
    fig.add_artist(box)
    fig.text(x0 + bw / 2, y0 + bh / 2, title, transform=px, ha='center', va='center',
             fontsize=5.4 * k, color='#111111', zorder=7)

    lx, ly = g['logo']
    fig.text(lx, ly, 'L I N S E I S', transform=px, ha='center', va='center', fontsize=4.8 * k,
             color='#4aa3dc', style='italic', fontweight='bold')
    fig.add_artist(Line2D([lx - 18, lx + 18], [ly + 4.5, ly + 4.5], transform=px, color='#7fc0ea', lw=0.6))

    fx, fy = g['foot']
    fig.text(fx, fy, 'Platinum Evaluation V1.0.173', transform=px, ha='right', va='center',
             fontsize=6.8 * k, color='#a0a0a0')


for p, g, t in zip(panels, layout, titles):
    draw_panel(p, g, t)

fig.savefig('out.png', dpi=100)
